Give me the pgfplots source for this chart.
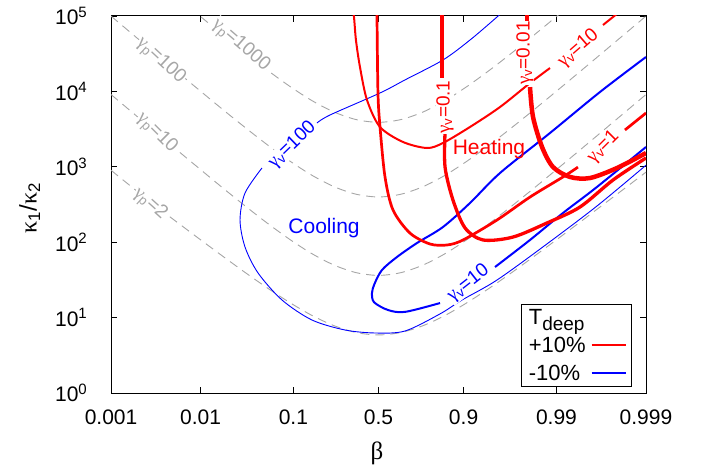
\documentclass[border=0pt]{standalone}
\usepackage{fontspec}
\setmainfont{Liberation Sans}
\newfontfamily\gr{Liberation Serif}
\usepackage{pgfplots}
\pgfplotsset{compat=1.18}
\definecolor{dashgray}{HTML}{A6A6A6}
\newcommand{\gam}{{\gr γ}}
\newcommand{\dec}[1]{10\raisebox{7.5pt}{\fontsize{15}{15}\selectfont #1}}
\tikzset{lab/.style={font=\fontsize{19}{19}\selectfont, fill=white, inner sep=0.5pt}}

\begin{document}
\begin{tikzpicture}
\useasboundingbox (0,0) rectangle (703pt,471pt);
\begin{axis}[
  at={(111pt,78pt)}, anchor=south west,
  scale only axis, width=535pt, height=377pt,
  xmin=-3, xmax=3,
  ymode=log, ymin=1, ymax=1e5,
  xtick={-2.9996,-1.9956,-0.9542,0,0.9542,1.9956,2.9996},
  xticklabels={0.001,0.01,0.1,0.5,0.9,0.99,0.999},
  ytick={1,10,100,1000,10000,100000},
  yticklabels={\dec{0},\dec{1},\dec{2},\dec{3},\dec{4},\dec{5}},
  yminorticks=false,
  tick align=inside, major tick length=6pt,
  every tick/.style={black, line width=0.8pt},
  axis line style={line width=1pt},
  tick label style={font=\fontsize{21}{21}\selectfont, inner sep=0pt},
  xticklabel shift=17pt, yticklabel shift=24pt,
  xlabel={\gr β},
  ylabel={{\gr κ}\textsubscript{1}/{\gr κ}\textsubscript{2}},
  xlabel style={at={(axis description cs:0.497,-0.159)}, anchor=center, font=\fontsize{25}{25}\selectfont},
  ylabel style={at={(axis description cs:-0.152,0.49)}, anchor=center, font=\fontsize{24}{24}\selectfont},
  legend style={at={(rel axis cs:0.974,0.016)}, anchor=south east, draw=black, line width=0.8pt,
    font=\fontsize{22}{22}\selectfont, fill=white, inner xsep=5pt, inner ysep=3pt,
    row sep=7pt, column sep=3pt},
  legend cell align=left, legend plot pos=right,
  legend image code/.code={\draw[#1] (0pt,0pt) -- (34pt,0pt);},
]
% gamma_p guide curves
\addplot[dashgray, dash pattern=on 9pt off 6pt, line width=0.9pt, smooth, forget plot] coordinates {
  (-2.25,175000) (-2,99300) (-1.75,56620) (-1.5,32730) (-1.25,19280) (-1,11780) (-0.75,7586) (-0.5,5333) (-0.25,4227)
  (0,3890) (0.25,4227) (0.5,5333) (0.75,7586) (1,11780) (1.25,19280) (1.5,32730) (1.75,56620) (2,99300) (2.25,175000)};
\addplot[dashgray, dash pattern=on 9pt off 6pt, line width=0.9pt, smooth, forget plot] coordinates {
  (-3,99770) (-2.75,56230) (-2.5,31700) (-2.25,17910) (-2,10160) (-1.75,5794) (-1.5,3350) (-1.25,1972) (-1,1205) (-0.75,776.2) (-0.5,545.8) (-0.25,432.5)
  (0,398) (0.25,432.5) (0.5,545.8) (0.75,776.2) (1,1205) (1.25,1972) (1.5,3350) (1.75,5794) (2,10160) (2.25,17910) (2.5,31700) (2.75,56230) (3,99770)};
\addplot[dashgray, dash pattern=on 9pt off 6pt, line width=0.9pt, smooth, forget plot] coordinates {
  (-3,9099) (-2.75,5129) (-2.5,2891) (-2.25,1633) (-2,926.8) (-1.75,528.4) (-1.5,305.5) (-1.25,179.9) (-1,109.9) (-0.75,70.8) (-0.5,49.8) (-0.25,39.45)
  (0,36.3) (0.25,39.45) (0.5,49.8) (0.75,70.8) (1,109.9) (1.25,179.9) (1.5,305.5) (1.75,528.4) (2,926.8) (2.25,1633) (2.5,2891) (2.75,5129) (3,9099)};
\addplot[dashgray, dash pattern=on 9pt off 6pt, line width=0.9pt, smooth, forget plot] coordinates {
  (-3,900) (-2.75,520) (-2.5,302.7) (-2.25,180.7) (-2,108.6) (-1.75,65.6) (-1.5,40.0) (-1.25,24.89) (-1,15.96) (-0.75,10.74) (-0.5,7.82) (-0.25,6.34)
  (0,5.89) (0.25,6.34) (0.5,7.82) (0.75,10.74) (1,15.96) (1.25,24.89) (1.5,40.0) (1.75,65.6) (2,108.6) (2.25,180.7) (2.5,302.7) (2.75,505.8) (3,849.2)};

\node[lab, text=dashgray, rotate=-41] at (axis cs:-1.545,40400) {\gam\textsubscript{p}=1000};
\node[lab, text=dashgray, rotate=-43] at (axis cs:-2.443,25530) {\gam\textsubscript{p}=100};
\node[lab, text=dashgray, rotate=-45] at (axis cs:-2.488,2780) {\gam\textsubscript{p}=10};
\node[lab, text=dashgray, rotate=-42] at (axis cs:-2.563,321) {\gam\textsubscript{p}=2};

% T_deep -10%  (blue)
\addplot[blue, line width=0.9pt, smooth, forget plot] coordinates {
  (1.475,140000) (1.329,97000) (1.026,48000) (0.723,26100) (0.297,14200) (0.017,9530) (-0.544,4864) (-0.690,3811)};
\addplot[blue, line width=0.9pt, smooth, forget plot] coordinates {
  (-1.307,964) (-1.497,449) (-1.553,197) (-1.497,86.3) (-1.351,39.1) (-1.082,17.1) (-0.746,9.29) (-0.376,6.85)
  (-0.039,6.25) (0.297,6.64) (0.690,11.2) (0.936,17.1) (1.329,31.5) (1.890,95) (2.450,302) (3.0,1050)};
\addplot[blue, line width=2pt, smooth, forget plot] coordinates {
  (3.0,28600) (2.484,9820) (1.923,2806) (1.363,828) (1.026,331) (0.723,159) (0.432,97.6) (0.207,63.6) (0.039,42.8)
  (-0.045,28) (-0.073,21.2) (-0.05,16) (0.107,12.6) (0.297,11.9) (0.690,15.6)};
\addplot[blue, line width=2pt, smooth, forget plot] coordinates {
  (1.307,46.9) (1.699,107) (2.069,244) (2.450,540) (3.0,1832)};

% T_deep +10%  (red)
\addplot[red, line width=2pt, smooth, forget plot] coordinates {
  (-0.297,130000) (-0.275,97000) (-0.253,48000) (-0.208,21100) (-0.129,7690) (0.017,3373) (0.275,2133) (0.544,1775)
  (0.723,2069) (1.026,3373) (1.363,6210) (1.699,12900) (1.923,20400)};
\addplot[red, line width=2pt, smooth, forget plot] coordinates {
  (2.518,76000) (2.630,97000) (2.764,130000)};
\addplot[red, line width=2.7pt, smooth, forget plot] coordinates {
  (-0.02,150000) (-0.017,97000) (-0.006,9530) (0.017,3373) (0.073,733) (0.163,267) (0.353,132) (0.578,94.6)
  (0.768,91.8) (0.948,107) (1.329,197) (1.699,397) (2.069,733) (2.237,990)};
\addplot[red, line width=2.7pt, smooth, forget plot] coordinates {
  (2.764,3076) (3.0,5170)};
\addplot[red, line width=3.3pt, forget plot] coordinates {
  (0.712,150000) (0.712,15060)};
\addplot[red, line width=3.3pt, smooth, forget plot] coordinates {
  (0.746,2806) (0.746,994) (0.835,363) (0.97,155) (1.172,107) (1.508,117) (1.890,180) (2.260,293) (2.630,668) (3.0,1309)};
\addplot[red, line width=4.5pt, forget plot] coordinates {
  (1.665,150000) (1.665,80700)};
\addplot[red, line width=4.5pt, smooth, forget plot] coordinates {
  (1.699,11400) (1.733,4575) (1.834,1832) (1.957,994) (2.148,733) (2.372,710) (2.675,964) (3.0,1524)};

\node[lab, text=blue, rotate=44] at (axis cs:-0.967,1945) {\gam\textsubscript{v}=100};
\node[lab, text=blue, rotate=38] at (axis cs:1.007,28.5) {\gam\textsubscript{v}=10};
\node[lab, text=red, rotate=90] at (axis cs:0.746,6210) {\gam\textsubscript{v}=0.1};
\node[lab, text=red, rotate=90] at (axis cs:1.643,32300) {\gam\textsubscript{v}=0.01};
\node[lab, text=red, rotate=41] at (axis cs:2.241,37300) {\gam\textsubscript{v}=10};
\node[lab, text=red, rotate=45] at (axis cs:2.521,1849) {\gam\textsubscript{v}=1};
\node[text=red, font=\fontsize{21}{21}\selectfont] at (axis cs:1.239,1706) {Heating};
\node[text=blue, font=\fontsize{21}{21}\selectfont] at (axis cs:-0.611,153) {Cooling};

\addlegendimage{empty legend}
\addlegendentry{T\raisebox{-6pt}{\fontsize{19}{19}\selectfont deep}}
\addlegendimage{red, line width=2pt}
\addlegendentry{+10\%}
\addlegendimage{blue, line width=2pt}
\addlegendentry{-10\%}
\end{axis}
\end{tikzpicture}
\end{document}
